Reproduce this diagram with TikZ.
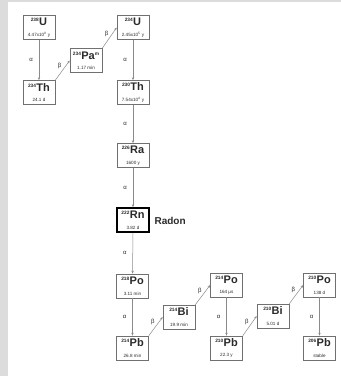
\documentclass[tikz,border=0pt]{standalone}
\usepackage{fontspec}
\setmainfont{Liberation Sans}
\usetikzlibrary{arrows.meta}
\definecolor{stripgray}{HTML}{DCDCDC}
\definecolor{boxline}{HTML}{707070}
\definecolor{arrowgray}{HTML}{8A8A8A}
\definecolor{txt}{HTML}{2A2A2A}
\newcommand\iso[2]{{\raisebox{4pt}{\fontsize{4.8}{5}\selectfont\bfseries #1}\kern0.4pt\fontsize{11}{11}\selectfont\bfseries #2}}
\newcommand\hl[1]{{\fontsize{4.6}{5}\selectfont #1}}
\begin{document}
\begin{tikzpicture}[x=1pt,y=-1pt,
  nuc/.style={draw=boxline, line width=0.6pt, minimum width=32pt, minimum height=24pt,
    inner sep=0pt, align=center, text=txt, fill=white},
  radon/.style={nuc, draw=black, line width=1.6pt},
  decay/.style={draw=arrowgray, line width=0.5pt, -{Stealth[length=3pt,width=2.4pt]}},
  lab/.style={font=\fontsize{6}{6}\selectfont, text=txt, inner sep=1pt}
]
\useasboundingbox (0,0) rectangle (341,376);
\fill[stripgray] (0,0) rectangle (8,376);
\fill[stripgray] (0,0) rectangle (341,2);

\node[nuc] (u238) at (39,27.5) {\iso{238}{U}\\[-1.5pt]\hl{4.47x10\textsuperscript{9} y}};
\node[nuc] (th234) at (39,92.5) {\iso{234}{Th}\\[-1.5pt]\hl{24.1 d}};
\node[nuc] (pa234) at (86,60.5) {\iso{234}{Pa}{\raisebox{4pt}{\fontsize{4.8}{5}\selectfont\bfseries m}}\\[-1.5pt]\hl{1.17 min}};
\node[nuc] (u234) at (133,27.5) {\iso{234}{U}\\[-1.5pt]\hl{2.45x10\textsuperscript{5} y}};
\node[nuc] (th230) at (133,92.5) {\iso{230}{Th}\\[-1.5pt]\hl{7.54x10\textsuperscript{4} y}};
\node[nuc] (ra226) at (133,155.5) {\iso{226}{Ra}\\[-1.5pt]\hl{1600 y}};
\node[radon] (rn222) at (133,220) {\iso{222}{Rn}\\[-1.5pt]\hl{3.82 d}};
\node[font=\fontsize{10}{10}\selectfont\bfseries, text=txt, anchor=west] (radonlabel) at (151,221) {Radon};
\node[nuc] (po218) at (132.5,286) {\iso{218}{Po}\\[-1.5pt]\hl{3.11 min}};
\node[nuc] (pb214) at (132.5,348) {\iso{214}{Pb}\\[-1.5pt]\hl{26.8 min}};
\node[nuc] (bi214) at (179,317) {\iso{214}{Bi}\\[-1.5pt]\hl{19.9 min}};
\node[nuc] (po214) at (226.5,285) {\iso{214}{Po}\\[-1.5pt]\hl{164 µs}};
\node[nuc] (pb210) at (226.5,348) {\iso{210}{Pb}\\[-1.5pt]\hl{22.3 y}};
\node[nuc] (bi210) at (273,316) {\iso{210}{Bi}\\[-1.5pt]\hl{5.01 d}};
\node[nuc] (po210) at (319.5,285) {\iso{210}{Po}\\[-1.5pt]\hl{138 d}};
\node[nuc] (pb206) at (319.5,348) {\iso{206}{Pb}\\[-1.5pt]\hl{stable}};

\draw[decay] (u238) -- node[lab, left=5pt] {α} (th234);
\draw[decay] (th234.north east) -- node[lab, above left=0pt] {β} (pa234.west);
\draw[decay] (pa234.north east) -- node[lab, above left=0pt] {β} (u234.west);
\draw[decay] (u234) -- node[lab, left=5pt] {α} (th230);
\draw[decay] (th230) -- node[lab, left=5pt] {α} (ra226);
\draw[decay] (ra226) -- node[lab, left=5pt] {α} (rn222);
\draw[decay] (rn222) -- node[lab, left=5pt] {α} (po218);
\draw[decay] (po218) -- node[lab, left=5pt] {α} (pb214);
\draw[decay] (pb214.north east) -- node[lab, above left=0pt] {β} (bi214.west);
\draw[decay] (bi214.north east) -- node[lab, above left=0pt] {β} (po214.west);
\draw[decay] (po214) -- node[lab, left=5pt] {α} (pb210);
\draw[decay] (pb210.north east) -- node[lab, above left=0pt] {β} (bi210.west);
\draw[decay] (bi210.north east) -- node[lab, above left=0pt] {β} (po210.west);
\draw[decay] (po210) -- node[lab, left=5pt] {α} (pb206);
\end{tikzpicture}
\end{document}
